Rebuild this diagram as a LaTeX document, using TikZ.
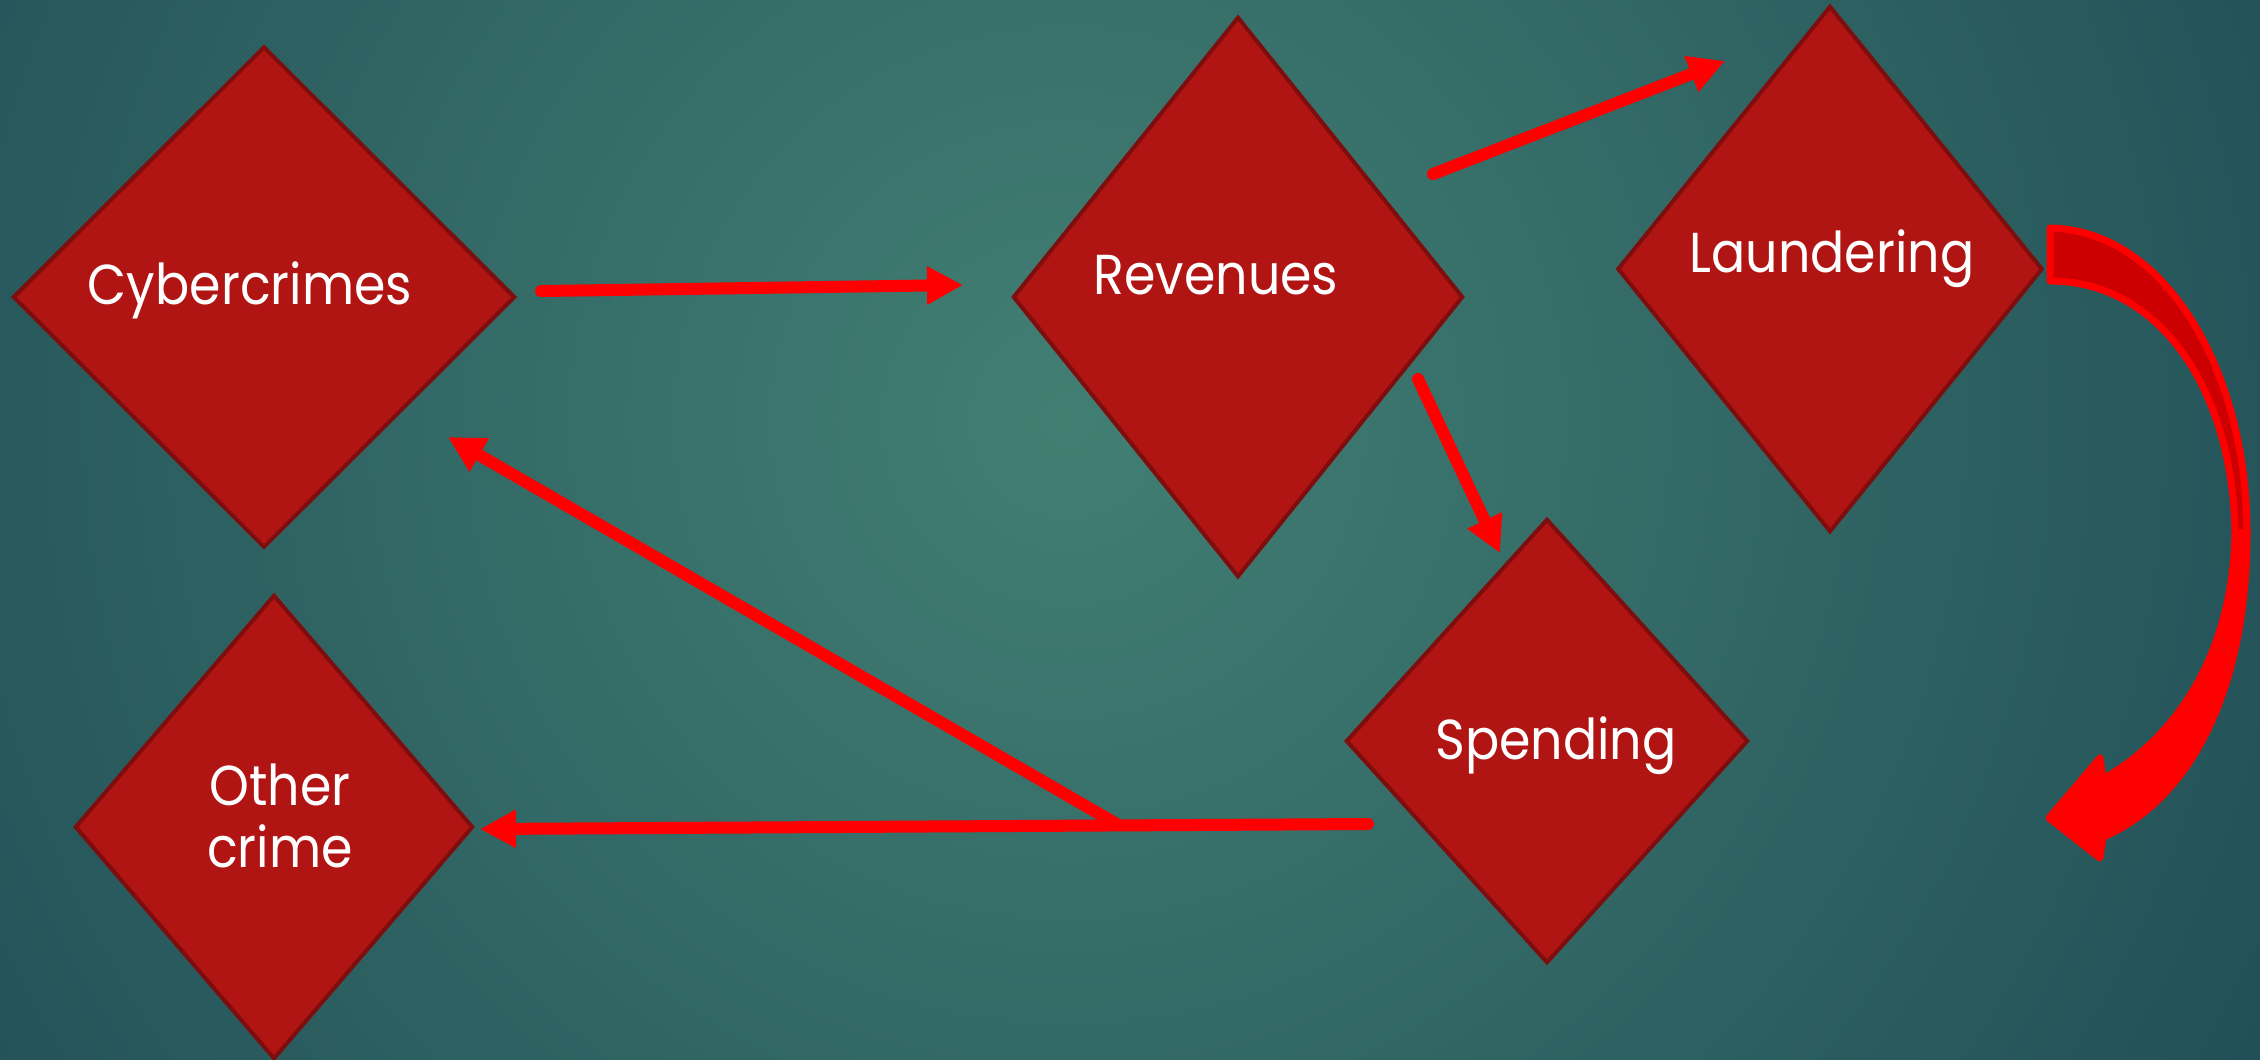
\documentclass[tikz,border=0pt]{standalone}
\usepackage{fontspec}
\setmainfont{Poppins}[FakeStretch=0.9]
\usetikzlibrary{shapes.geometric,arrows.meta}
\definecolor{bginner}{HTML}{427F73}
\definecolor{bgouter}{HTML}{12394A}
\definecolor{boxfill}{HTML}{B01513}
\definecolor{boxline}{HTML}{7E0E0E}
\definecolor{backred}{HTML}{CC0000}
\tikzset{
  crimebox/.style={diamond, draw=boxline, fill=boxfill, line width=0.04cm, inner sep=0pt},
  boxtext/.style={text=white, font=\fontsize{16}{17.6}\selectfont, align=center},
  flow/.style={draw=red, line width=0.12cm, line cap=round, -{Triangle[length=0.36cm,width=0.36cm]}},
  bigarrow/.style={draw=red, line width=0.07cm, line join=round},
}
\begin{document}
\begin{tikzpicture}[x=0.01cm, y=-0.01cm]
    \useasboundingbox (0,0) rectangle (2260,1059);
    % Hintergrund
    \begin{scope}
        \clip (0,0) rectangle (2260,1059);
        \shade[inner color=bginner, outer color=bgouter] (1067,420) circle (2000);
    \end{scope}

    % Rauten
    \node[crimebox, minimum width=5.02cm, minimum height=5.01cm] (cyber) at (264,297) {};
    \node[crimebox, minimum width=4.50cm, minimum height=5.60cm] (rev) at (1238,297) {};
    \node[crimebox, minimum width=4.25cm, minimum height=5.26cm] (laund) at (1830,269) {};
    \node[crimebox, minimum width=4.02cm, minimum height=4.44cm] (spend) at (1547,741) {};
    \node[crimebox, minimum width=3.98cm, minimum height=4.64cm] (other) at (274,827) {};

    % Beschriftungen
    \node[boxtext, anchor=base] (cyber-txt) at (250,304) {Cybercrimes};
    \node[boxtext, anchor=base] (rev-txt) at (1216,294) {Revenues};
    \node[boxtext, anchor=base] (laund-txt) at (1832,272) {Laundering};
    \node[boxtext, anchor=base] (spend-txt) at (1556,759) {Spending};
    \node[boxtext] (other-txt) at (280,816) {Other\\crime};

    % Pfeilenden
    \coordinate (cyber-out) at (541,291);
    \coordinate (rev-in) at (963,285);
    \coordinate (rev-out1) at (1433,174);
    \coordinate (laund-in) at (1725,61);
    \coordinate (rev-out2) at (1418,379);
    \coordinate (spend-in) at (1500,553);
    \coordinate (spend-out) at (1368,824);
    \coordinate (other-in) at (480,829);
    \coordinate (split) at (1115,823);
    \coordinate (cyber-in) at (448,437);

    % Pfeile
    \draw[flow] (cyber-out) -- (rev-in);
    \draw[flow] (rev-out1) -- (laund-in);
    \draw[flow] (rev-out2) -- (spend-in);
    \draw[flow] (spend-out) -- (other-in);
    \draw[flow] (split) -- (cyber-in);

    % gebogener Pfeil
    \draw[bigarrow, fill=backred] (2050,228) .. controls (2165,230) and (2247,370) .. (2247,533)
        -- (2235,533) .. controls (2233,390) and (2160,281) .. (2050,281) -- cycle;
    \draw[bigarrow, fill=red] (2247,533) .. controls (2247,690) and (2190,800) .. (2103,837)
        -- (2100,858) -- (2049,818) -- (2100,758) -- (2103,779)
        .. controls (2180,735) and (2233,650) .. (2235,533) -- cycle;
\end{tikzpicture}
\end{document}
